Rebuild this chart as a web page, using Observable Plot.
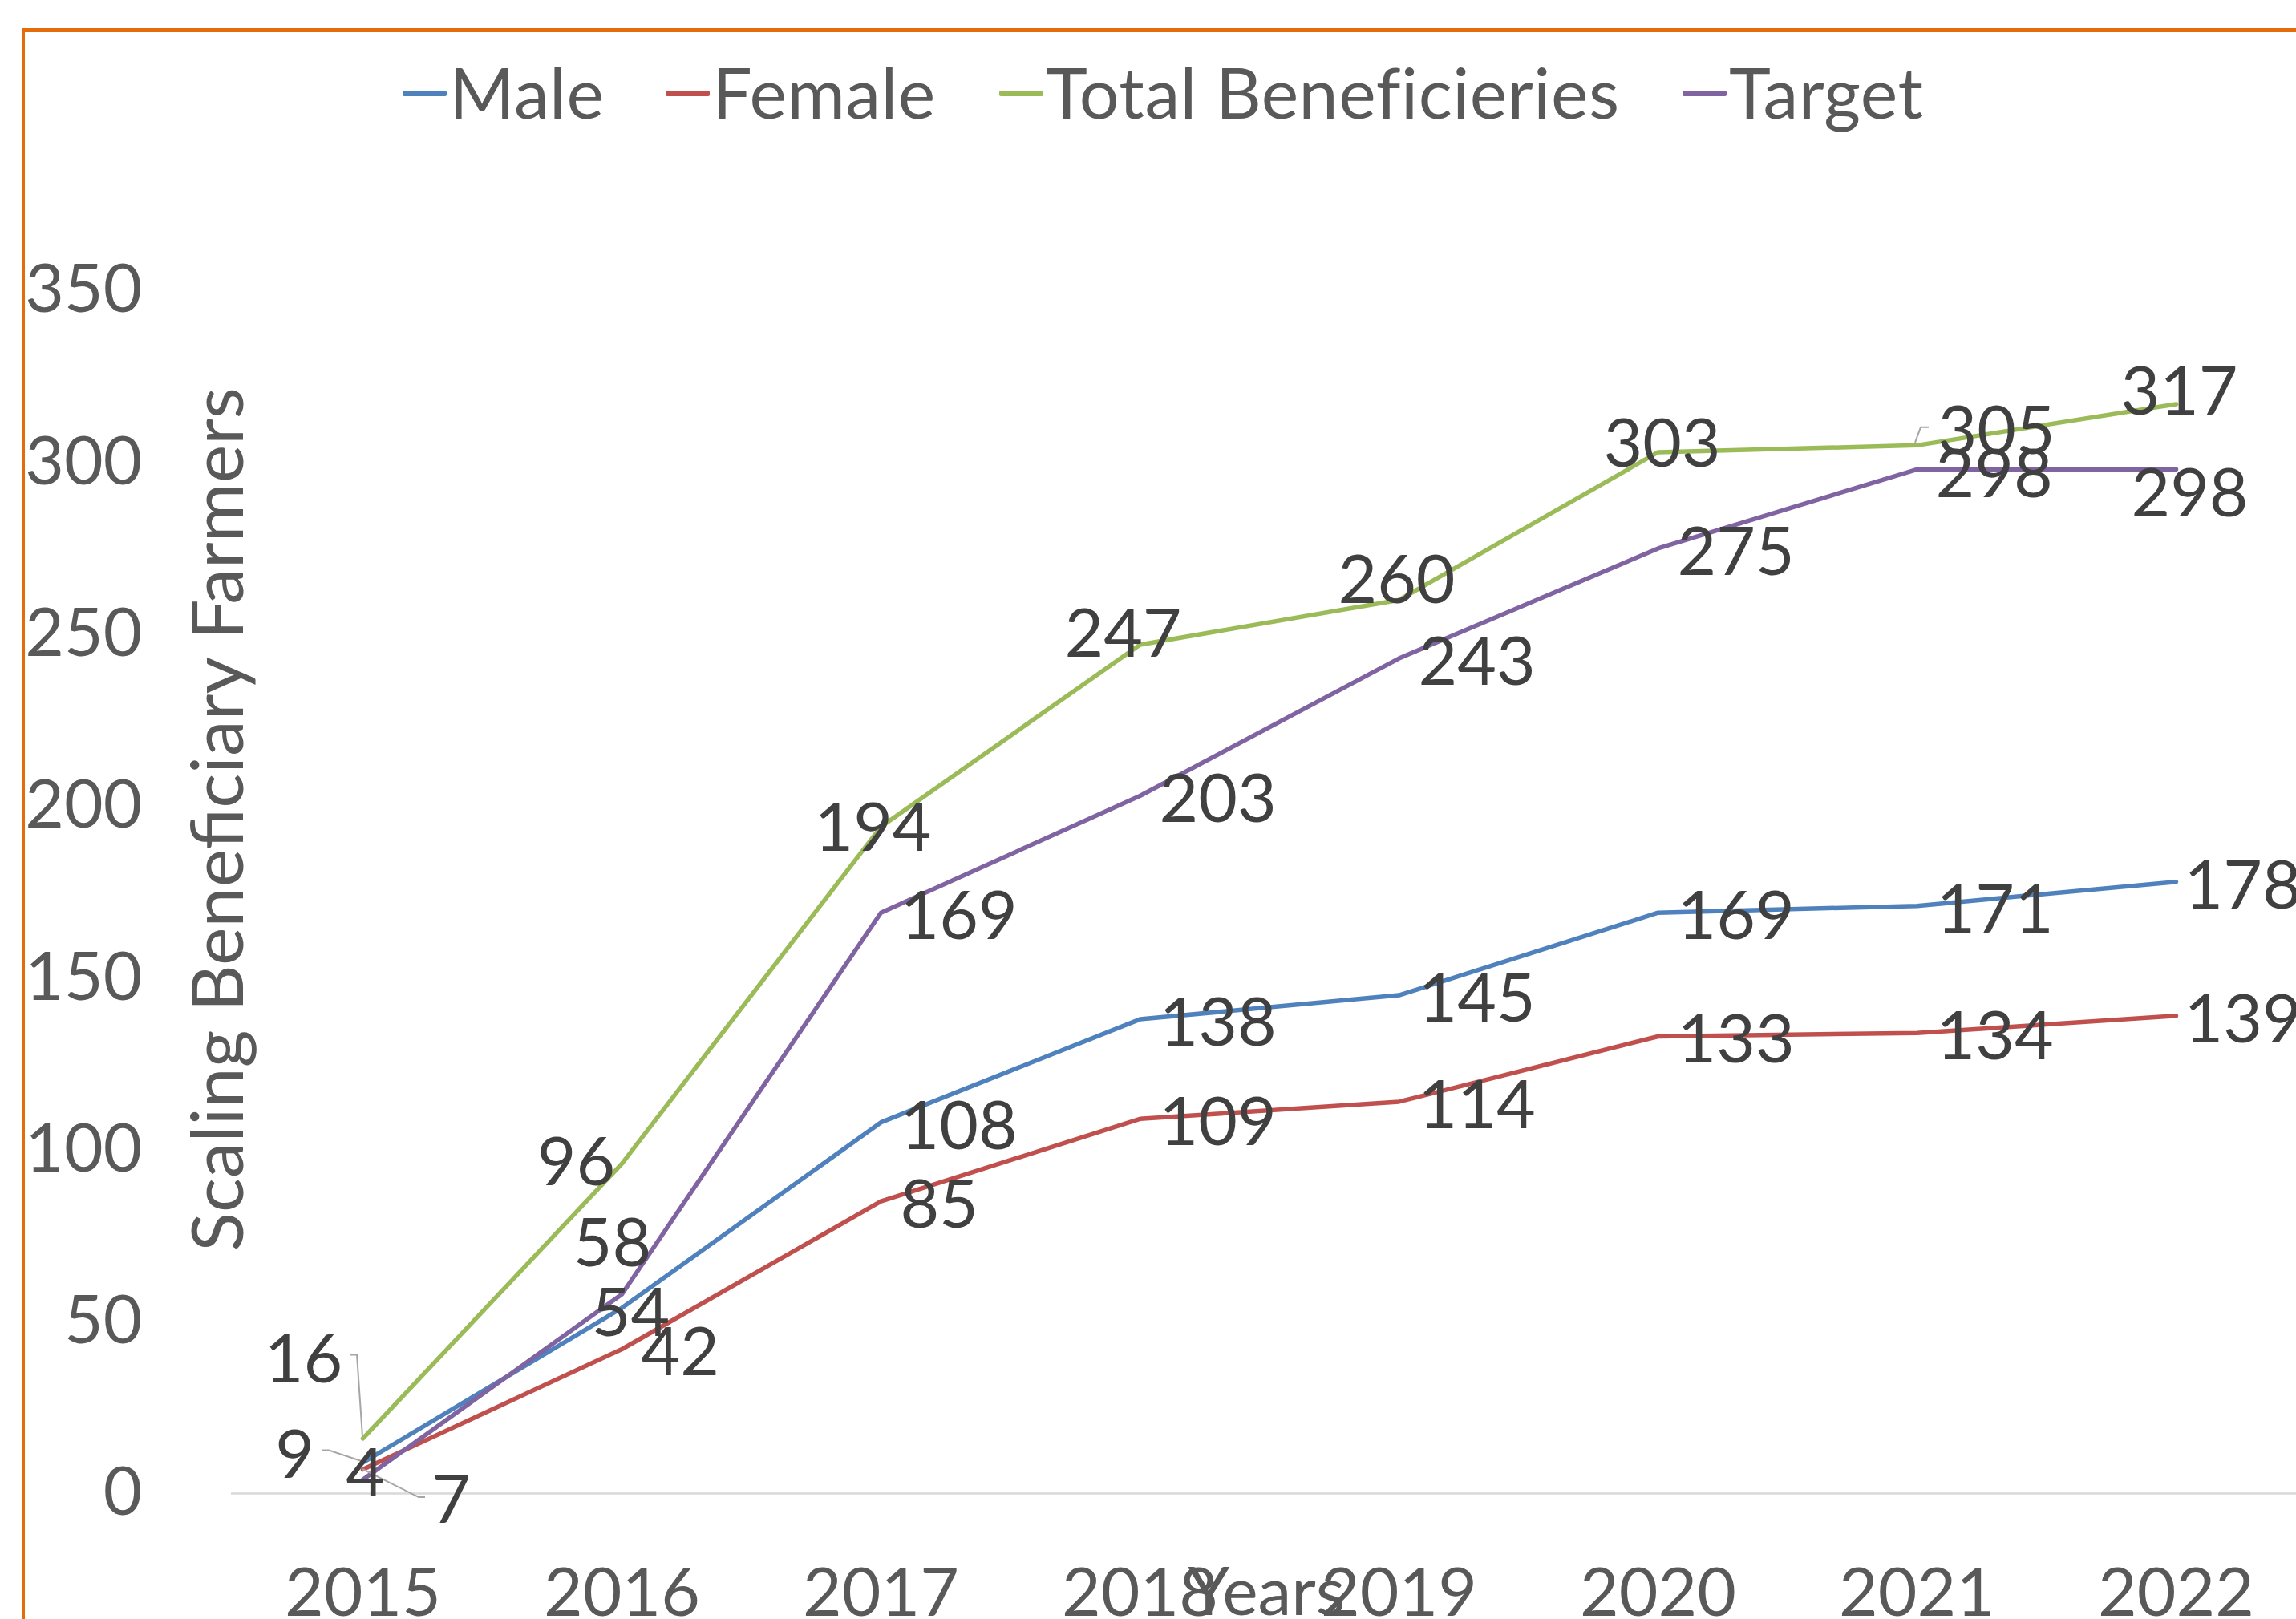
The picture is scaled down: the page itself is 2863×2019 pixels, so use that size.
<!DOCTYPE html>
<html>
<head>
<meta charset="utf-8">
<script src="https://cdn.jsdelivr.net/npm/d3@7"></script>
<script src="https://cdn.jsdelivr.net/npm/@observablehq/plot@0.6"></script>
<style>
  html, body { margin: 0; padding: 0; background: #fff; overflow: hidden; }
  #wrap { position: relative; width: 2863px; height: 2019px; overflow: hidden; font-family: Lato, "Noto Sans", sans-serif; }
  #frame { position: absolute; left: 27px; top: 35px; width: 3200px; height: 2400px; border-left: 4px solid #E46C0A; border-top: 5px solid #E46C0A; box-sizing: border-box; }
  #chart { position: absolute; left: 0; top: 0; }
  .legend-item { position: absolute; top: 70px; height: 88px; display: flex; align-items: center; white-space: nowrap; }
  .legend-item .sw { width: 55px; height: 7px; border-radius: 2px; margin-right: 3px; margin-top: 4px; }
  .legend-item .tx { font-size: 88px; line-height: 88px; color: #595959; letter-spacing: 0.5px; }
  #ytitle { position: absolute; left: 268px; top: 1022px; transform: translate(-50%, -50%) rotate(-90deg); font-size: 90px; line-height: 90px; color: #595959; white-space: nowrap; }
  #xtitle { position: absolute; left: 1579px; top: 1940px; transform: translateX(-50%); font-size: 84px; line-height: 84px; color: #595959; white-space: nowrap; }
</style>
</head>
<body>
<div id="wrap">
  <div id="frame"></div>
  <div id="chart"></div>
  <div id="legend"></div>
  <div id="ytitle">Scaling Beneficiary Farmers</div>
  <div id="xtitle">Years</div>
</div>
<script>
// ---- data ----
const years = ["2015", "2016", "2017", "2018", "2019", "2020", "2021", "2022"];
const male = [9, 54, 108, 138, 145, 169, 171, 178];
const female = [7, 42, 85, 109, 114, 133, 134, 139];
const total = [16, 96, 194, 247, 260, 303, 305, 317];
const target = [4, 58, 169, 203, 243, 275, 298, 298];
const seriesNames = ["Male", "Female", "Total Beneficieries", "Target"];
const yTicks = [0, 50, 100, 150, 200, 250, 300, 350];

// ---- styles / label placement (kept apart from the data) ----
const seriesColors = ["#4F81BD", "#C0504D", "#9BBB59", "#8064A2"];
const R = ["s", 24, 3];
const RE = ["s", 10, 3];
const labelPlace = [
  [["m", -85, -11], ["m", 11, 5], R, R, R, R, R, RE],
  [["m", 110, 37], R, R, R, R, R, R, RE],
  [["m", -74, -100], ["m", -57, -3], ["m", -10, 0], ["m", -21, -15], ["m", -3, -26], ["m", 5, -12], ["s", 26, -19], ["m", 4, -17]],
  [["m", 3, -9], ["m", -12, -65], R, R, R, R, ["s", 23, 5], ["m", 17, 29]]
];
// leader lines: [series index, year index, pixel offsets from the point]
const leaders = [
  [0, 0, [[-51, -15], [-42, -15], [0, -1]]],
  [1, 0, [[78, 35], [70, 35], [0, 0]]],
  [2, 0, [[-16, -104], [-7, -104], [0, -2]]],
  [2, 6, [[-2, -3], [5, -22], [15, -22]]]
];

const seriesValues = [male, female, total, target];
const rows = [];
seriesNames.forEach((s, si) => years.forEach((y, yi) => rows.push({series: s, si, yi, year: y, value: seriesValues[si][yi]})));

const labelMarks = rows.map(r => {
  const [mode, dx, dy] = labelPlace[r.si][r.yi];
  return Plot.text([r], {
    x: "year", y: "value", text: d => String(d.value),
    textAnchor: mode === "s" ? "start" : "middle",
    lineAnchor: "middle",
    dx, dy: dy + 3,
    fill: "#404040", fontSize: 84
  });
});

const leaderMark = (index, scales) => {
  const g = d3.create("svg:g").attr("fill", "none").attr("stroke", "#A6A6A6").attr("stroke-width", 2);
  for (const [si, yi, offs] of leaders) {
    const px = scales.x(years[yi]);
    const py = scales.y(seriesValues[si][yi]);
    g.append("path").attr("d", d3.line()(offs.map(([ox, oy]) => [px + ox, py + oy])));
  }
  return g.node();
};

const chart = Plot.plot({
  width: 2863,
  height: 2019,
  marginLeft: 288,
  marginRight: 0,
  marginTop: 362,
  marginBottom: 157,
  x: {type: "point", domain: years, range: [450, 2715], padding: 0},
  y: {domain: [0, 350], range: [1862, 362]},
  color: {domain: seriesNames, range: seriesColors},
  style: {fontFamily: "Lato, 'Noto Sans', sans-serif", fontSize: "84px", background: "transparent", overflow: "visible"},
  marks: [
    Plot.ruleY([0], {stroke: "#D9D9D9", strokeWidth: 2.5}),
    Plot.axisY({ticks: yTicks, tickSize: 0, tickPadding: 111, label: null, color: "#595959", fontSize: 84}),
    Plot.axisX({tickSize: 0, tickPadding: 93, label: null, color: "#595959", fontSize: 84}),
    Plot.line(rows, {x: "year", y: "value", z: "series", stroke: "series", strokeWidth: 5.5, strokeLinejoin: "round", strokeLinecap: "round"}),
    leaderMark,
    ...labelMarks
  ]
});
document.getElementById("chart").appendChild(chart);

// legend
const legendLeft = [502, 830, 1246, 2098];
const legend = document.getElementById("legend");
seriesNames.forEach((s, i) => {
  const item = document.createElement("div");
  item.className = "legend-item";
  item.style.left = legendLeft[i] + "px";
  const sw = document.createElement("span");
  sw.className = "sw";
  sw.style.background = seriesColors[i];
  const tx = document.createElement("span");
  tx.className = "tx";
  tx.textContent = s;
  item.appendChild(sw);
  item.appendChild(tx);
  legend.appendChild(item);
});
</script>
</body>
</html>
